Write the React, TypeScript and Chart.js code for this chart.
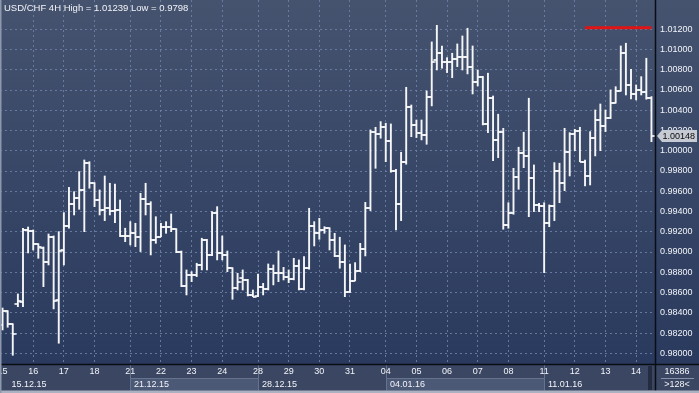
import React, { useEffect, useRef } from 'react';
import { Chart, registerables } from 'chart.js';
Chart.register(...registerables);

const titleText = 'USD/CHF 4H High = 1.01239 Low = 0.9798';
const barCount = 128;
const dayStarts = [0, 6, 12, 18, 25, 31, 37, 43, 50, 56, 62, 68, 75, 81, 87, 93, 99, 106, 112, 118, 124];
const dayNames = ['15', '16', '17', '18', '21', '22', '23', '24', '28', '29', '30', '31', '04', '05', '06', '07', '08', '11', '12', '13', '14'];
const weekStarts = [0, 25, 50, 75, 106];
const weekNames = ['15.12.15', '21.12.15', '28.12.15', '04.01.16', '11.01.16'];
const yTicks = [0.98, 0.982, 0.984, 0.986, 0.988, 0.99, 0.992, 0.994, 0.996, 0.998, 1.0, 1.002, 1.004, 1.006, 1.008, 1.01, 1.012];
const yMin = 0.97894;
const yMax = 1.01489;
const alertLevel = 1.01216;
const alertFrom = 114;
const lastPrice = 1.00148;
const footerTop = '16386';
const footerBottom = '>128<';

const openVals = [
  0.98280, 0.98418, 0.98289, 0.98487, 0.98507, 0.99218, 0.99208, 0.99080, 0.99040, 0.98902,
  0.99149, 0.98526, 0.99020, 0.99257, 0.99475, 0.99531, 0.99613, 0.99877, 0.99679, 0.99514,
  0.99415, 0.99432, 0.99406, 0.99415, 0.99159, 0.99162, 0.99185, 0.99152, 0.99521, 0.99472,
  0.99119, 0.99152, 0.99250, 0.99250, 0.99225, 0.99004, 0.98665, 0.98773, 0.98773, 0.98872,
  0.99119, 0.98971, 0.99389, 0.98988, 0.98971, 0.98840, 0.98642, 0.98744, 0.98724, 0.98573,
  0.98566, 0.98652, 0.98635, 0.98830, 0.98796, 0.98796, 0.98751, 0.98731, 0.98862, 0.98632,
  0.98840, 0.99257, 0.99191, 0.99218, 0.99235, 0.99119, 0.98961, 0.98905, 0.98603, 0.98717,
  0.98816, 0.99027, 0.99432, 1.00183, 1.00166, 1.00238, 1.00094, 0.99804, 0.99475, 0.99887,
  1.00430, 1.00255, 1.00173, 1.00156, 1.00529, 1.00897, 1.00963, 1.00874, 1.00880, 1.00904,
  1.00924, 1.00924, 1.00831, 1.00683, 1.00732, 1.00262, 1.00519, 1.00107, 1.00189, 0.99267,
  0.99389, 0.99738, 0.99975, 0.99949, 0.99729, 0.99465, 0.99455, 0.99290, 0.99458, 0.99804,
  0.99685, 0.99991, 1.00163, 1.00196, 0.99892, 0.99751, 1.00124, 1.00304, 1.00245, 1.00321,
  1.00475, 1.00591, 1.00969, 1.00650, 1.00558, 1.00601, 1.00584, 1.00525,
];
const highVals = [
  0.98447, 0.98421, 0.98292, 0.98586, 0.99235, 0.99247, 0.99218, 0.99082, 0.99050, 0.99178,
  0.99159, 0.99201, 0.99389, 0.99640, 0.99596, 0.99794, 0.99909, 0.99892, 0.99685, 0.99613,
  0.99751, 0.99679, 0.99672, 0.99514, 0.99235, 0.99300, 0.99284, 0.99580, 0.99679, 0.99497,
  0.99349, 0.99284, 0.99300, 0.99376, 0.99230, 0.99010, 0.98823, 0.98806, 0.98889, 0.99136,
  0.99125, 0.99399, 0.99448, 0.99159, 0.99010, 0.98845, 0.98790, 0.98823, 0.98730, 0.98625,
  0.98783, 0.98691, 0.98882, 0.98872, 0.99010, 0.98849, 0.98823, 0.98938, 0.98922, 0.98954,
  0.99432, 0.99300, 0.99333, 0.99250, 0.99240, 0.99185, 0.99146, 0.99070, 0.98882, 0.98895,
  0.99086, 0.99491, 1.00206, 1.00232, 1.00288, 1.00272, 1.00265, 0.99817, 0.99985, 1.00627,
  1.00452, 1.00304, 1.00304, 1.00591, 1.01075, 1.01239, 1.01035, 1.00920, 1.00963, 1.01055,
  1.01134, 1.01210, 1.01035, 1.00798, 1.00735, 1.00766, 1.00541, 1.00361, 1.00222, 0.99487,
  0.99827, 1.00035, 1.00183, 1.00519, 0.99860, 0.99482, 0.99487, 0.99465, 0.99883, 0.99877,
  1.00222, 1.00179, 1.00212, 1.00232, 0.99909, 1.00189, 1.00403, 1.00462, 1.00403, 1.00601,
  1.00633, 1.01035, 1.01062, 1.00805, 1.00650, 1.00732, 1.00914, 1.00535,
];
const lowVals = [
  0.98230, 0.98257, 0.97980, 0.98460, 0.98460, 0.98991, 0.99020, 0.98938, 0.98658, 0.98872,
  0.98438, 0.98099, 0.98872, 0.99235, 0.99366, 0.99422, 0.99201, 0.99630, 0.99448, 0.99366,
  0.99310, 0.99366, 0.99290, 0.99152, 0.99102, 0.99070, 0.99053, 0.99004, 0.99366, 0.98971,
  0.99086, 0.99150, 0.99185, 0.99201, 0.98994, 0.98658, 0.98576, 0.98707, 0.98757, 0.98823,
  0.98823, 0.98965, 0.98922, 0.98922, 0.98806, 0.98533, 0.98625, 0.98625, 0.98566, 0.98559,
  0.98560, 0.98576, 0.98625, 0.98675, 0.98707, 0.98724, 0.98697, 0.98725, 0.98625, 0.98625,
  0.98830, 0.99060, 0.99126, 0.99185, 0.99020, 0.98954, 0.98840, 0.98559, 0.98600, 0.98715,
  0.98806, 0.98961, 0.99409, 0.99827, 1.00124, 0.99892, 0.99788, 0.99218, 0.99310, 0.99867,
  1.00139, 1.00130, 1.00107, 1.00064, 1.00443, 1.00798, 1.00815, 1.00772, 1.00722, 1.00831,
  1.00798, 1.00759, 1.00561, 1.00640, 1.00255, 1.00179, 0.99902, 0.99932, 0.99225, 0.99235,
  0.99373, 0.99620, 0.99833, 0.99349, 0.99399, 0.99399, 0.98796, 0.99250, 0.99310, 0.99487,
  0.99606, 0.99751, 1.00001, 0.99892, 0.99652, 0.99662, 0.99949, 1.00001, 1.00189, 1.00318,
  1.00470, 1.00588, 1.00551, 1.00512, 1.00502, 1.00551, 1.00509, 1.00090,
];
const closeVals = [
  0.98421, 0.98289, 0.98191, 0.98520, 0.99218, 0.99208, 0.99080, 0.99047, 0.98899, 0.99149,
  0.98520, 0.99013, 0.99257, 0.99475, 0.99531, 0.99613, 0.99877, 0.99679, 0.99514, 0.99415,
  0.99432, 0.99406, 0.99415, 0.99159, 0.99162, 0.99185, 0.99152, 0.99521, 0.99472, 0.99119,
  0.99152, 0.99250, 0.99250, 0.99225, 0.99004, 0.98665, 0.98773, 0.98773, 0.98872, 0.99119,
  0.98971, 0.99389, 0.98988, 0.98971, 0.98840, 0.98642, 0.98707, 0.98724, 0.98573, 0.98559,
  0.98652, 0.98635, 0.98830, 0.98796, 0.98796, 0.98751, 0.98731, 0.98862, 0.98632, 0.98840,
  0.99257, 0.99191, 0.99218, 0.99235, 0.99119, 0.98961, 0.98905, 0.98603, 0.98717, 0.98816,
  0.99027, 0.99432, 1.00183, 1.00166, 1.00238, 1.00094, 0.99804, 0.99475, 0.99887, 1.00430,
  1.00255, 1.00173, 1.00156, 1.00529, 1.00877, 1.00963, 1.00874, 1.00880, 1.00904, 1.00924,
  1.00924, 1.00831, 1.00683, 1.00732, 1.00262, 1.00519, 1.00107, 1.00189, 0.99267, 0.99389,
  0.99738, 0.99975, 0.99949, 0.99729, 0.99465, 0.99455, 0.99290, 0.99458, 0.99804, 0.99685,
  0.99991, 1.00163, 1.00196, 0.99892, 0.99751, 1.00124, 1.00304, 1.00245, 1.00321, 1.00475,
  1.00591, 1.00969, 1.00650, 1.00558, 1.00601, 1.00584, 1.00525, 1.00148,
];

const FONT = '"Liberation Sans", Arial, sans-serif';
const GRID = 'rgba(110,130,168,0.85)';
const TEXT = '#f2f4f8';

export default function App() {
  const ref = useRef<HTMLCanvasElement>(null);
  useEffect(() => {
    document.body.style.margin = '0';
    const canvas = ref.current;
    if (!canvas) return;

    const mkTick = (left: boolean) => {
      const c = document.createElement('canvas');
      c.width = 8;
      c.height = 2;
      const g = c.getContext('2d')!;
      g.fillStyle = 'rgba(255,255,255,0.8)';
      g.fillRect(left ? 0.5 : 4, 0, 3.5, 2);
      return c;
    };
    const openImg = mkTick(true);
    const closeImg = mkTick(false);

    const labels = Array.from({ length: barCount }, (_, i) => String(i));
    const dayMap: Record<number, string> = {};
    dayStarts.forEach((s, k) => { dayMap[s] = dayNames[k]; });
    const daySet = new Set(dayStarts.filter((s) => s > 0));
    const alertData = labels.map((_, i) => (i >= alertFrom ? alertLevel : null));

    const bgPlugin = {
      id: 'bg',
      beforeDraw(chart: any) {
        const { ctx, width, height, chartArea, scales } = chart;
        const bottom = chartArea.bottom;
        ctx.save();
        const gr = ctx.createLinearGradient(0, 0, 0, bottom);
        gr.addColorStop(0, '#45536f');
        gr.addColorStop(1, '#2a3a5e');
        ctx.fillStyle = gr;
        ctx.fillRect(0, 0, width, bottom);
        ctx.fillStyle = '#3a4662';
        ctx.fillRect(0, bottom, width, height - bottom);
        const xs = scales.x;
        const wy0 = bottom + 14.5;
        const wy1 = height - 2.5;
        weekStarts.forEach((s, k) => {
          const x0 = k === 0 ? 0 : Math.round(xs.getPixelForValue(s)) + 0.5;
          const x1 = k < weekStarts.length - 1 ? Math.round(xs.getPixelForValue(weekStarts[k + 1])) + 0.5 : chartArea.right;
          if (k % 2 === 1) {
            ctx.fillStyle = '#4b5876';
            ctx.fillRect(x0, wy0, x1 - x0, wy1 - wy0);
            ctx.strokeStyle = '#66738f';
            ctx.lineWidth = 1;
            ctx.beginPath();
            ctx.moveTo(x0, wy0);
            ctx.lineTo(x1, wy0);
            ctx.stroke();
          }
          if (k > 0) {
            ctx.strokeStyle = '#66738f';
            ctx.lineWidth = 1;
            ctx.beginPath();
            ctx.moveTo(x0, bottom);
            ctx.lineTo(x0, wy1);
            ctx.stroke();
          }
          ctx.fillStyle = TEXT;
          ctx.font = `9px ${FONT}`;
          ctx.textBaseline = 'middle';
          ctx.textAlign = 'left';
          ctx.fillText(weekNames[k], k === 0 ? 11.5 : x0 + 3.5, (wy0 + wy1) / 2 + 0.5);
        });
        ctx.fillStyle = '#232c40';
        ctx.fillRect(648, bottom + 2, 4, 24);
        ctx.restore();
      },
    };

    const overlayPlugin = {
      id: 'overlay',
      afterDraw(chart: any) {
        const { ctx, width, height, chartArea, scales } = chart;
        const bottom = chartArea.bottom;
        const sepX = 655.5;
        ctx.save();
        ctx.setLineDash([]);
        ctx.strokeStyle = '#0a0d14';
        ctx.lineWidth = 1.5;
        ctx.beginPath();
        ctx.moveTo(0, bottom + 0.5);
        ctx.lineTo(width, bottom + 0.5);
        ctx.moveTo(sepX, 0);
        ctx.lineTo(sepX, height - 2);
        ctx.stroke();
        ctx.fillStyle = '#aab2c2';
        ctx.fillRect(0, height - 2.5, width, 2.5);
        ctx.fillStyle = '#8e98ad';
        ctx.fillRect(0, 0, 1.5, height);
        ctx.fillStyle = TEXT;
        ctx.font = `9.5px ${FONT}`;
        ctx.textAlign = 'left';
        ctx.textBaseline = 'middle';
        ctx.fillText(titleText, 4, 8);
        ctx.textAlign = 'center';
        ctx.font = `9px ${FONT}`;
        ctx.fillText(footerTop, 677, bottom + 8);
        ctx.fillText(footerBottom, 677, bottom + 20.5);
        ctx.strokeStyle = '#8792aa';
        ctx.lineWidth = 1;
        ctx.beginPath();
        ctx.moveTo(661, bottom + 14.5);
        ctx.lineTo(694, bottom + 14.5);
        ctx.stroke();
        const py = Math.round(scales.y.getPixelForValue(lastPrice));
        ctx.fillStyle = '#c6cad3';
        ctx.beginPath();
        ctx.moveTo(657, py);
        ctx.lineTo(662, py - 6);
        ctx.lineTo(697, py - 6);
        ctx.lineTo(697, py + 6);
        ctx.lineTo(662, py + 6);
        ctx.closePath();
        ctx.fill();
        ctx.fillStyle = '#0a0a0a';
        ctx.textAlign = 'left';
        ctx.font = `9px ${FONT}`;
        ctx.fillText(lastPrice.toFixed(5), 662.5, py + 0.5);
        ctx.restore();
      },
    };

    const chart = new Chart(canvas, {
      type: 'bar',
      data: {
        labels,
        datasets: [
          {
            type: 'bar',
            data: lowVals.map((l, i) => [l, highVals[i]]) as any,
            backgroundColor: 'rgba(255,255,255,0.95)',
            borderWidth: 0,
            barThickness: 1.25,
            order: 3,
          },
          {
            type: 'line',
            data: openVals,
            showLine: false,
            pointStyle: openImg as any,
            pointRadius: 3,
            order: 2,
          },
          {
            type: 'line',
            data: closeVals,
            showLine: false,
            pointStyle: closeImg as any,
            pointRadius: 3,
            order: 2,
          },
          {
            type: 'line',
            data: alertData as any,
            borderColor: '#e01414',
            borderWidth: 3,
            borderDash: [],
            borderCapStyle: 'butt',
            pointRadius: 0,
            spanGaps: true,
            tension: 0,
            order: 1,
          },
        ] as any,
      },
      options: {
        responsive: false,
        animation: false,
        devicePixelRatio: 1,
        layout: { padding: 0, autoPadding: false },
        plugins: { legend: { display: false }, tooltip: { enabled: false } },
        events: [],
        scales: {
          x: {
            type: 'category',
            offset: true,
            grid: {
              offset: false,
              drawTicks: false,
              color: (c: any) => (daySet.has(c.index) ? GRID : 'rgba(0,0,0,0)'),
            },
            border: { display: false, dash: [2, 3] },
            ticks: {
              autoSkip: false,
              maxRotation: 0,
              minRotation: 0,
              padding: 2,
              color: TEXT,
              font: { family: FONT, size: 9 },
              callback: (_v: any, i: number) => dayMap[i] ?? '',
            },
            afterFit: (s: any) => {
              s.height = 29;
              s.paddingLeft = 0;
              s.paddingRight = 0;
            },
          },
          y: {
            type: 'linear',
            position: 'right',
            min: yMin,
            max: yMax,
            afterBuildTicks: (s: any) => {
              s.ticks = yTicks.map((v) => ({ value: v }));
            },
            grid: { color: GRID, drawTicks: false },
            border: { display: false, dash: [2, 3] },
            ticks: {
              padding: 6,
              color: TEXT,
              font: { family: FONT, size: 9 },
              callback: (v: any) => Number(v).toFixed(5),
            },
            afterFit: (s: any) => {
              s.width = 45;
              s.paddingTop = 0;
              s.paddingBottom = 0;
            },
          },
        },
      } as any,
      plugins: [bgPlugin, overlayPlugin],
    });
    return () => chart.destroy();
  }, []);

  return (
    <div style={{ position: 'fixed', left: 0, top: 0, width: 699, height: 393 }}>
      <canvas ref={ref} width={699} height={393} style={{ display: 'block' }} />
    </div>
  );
}
